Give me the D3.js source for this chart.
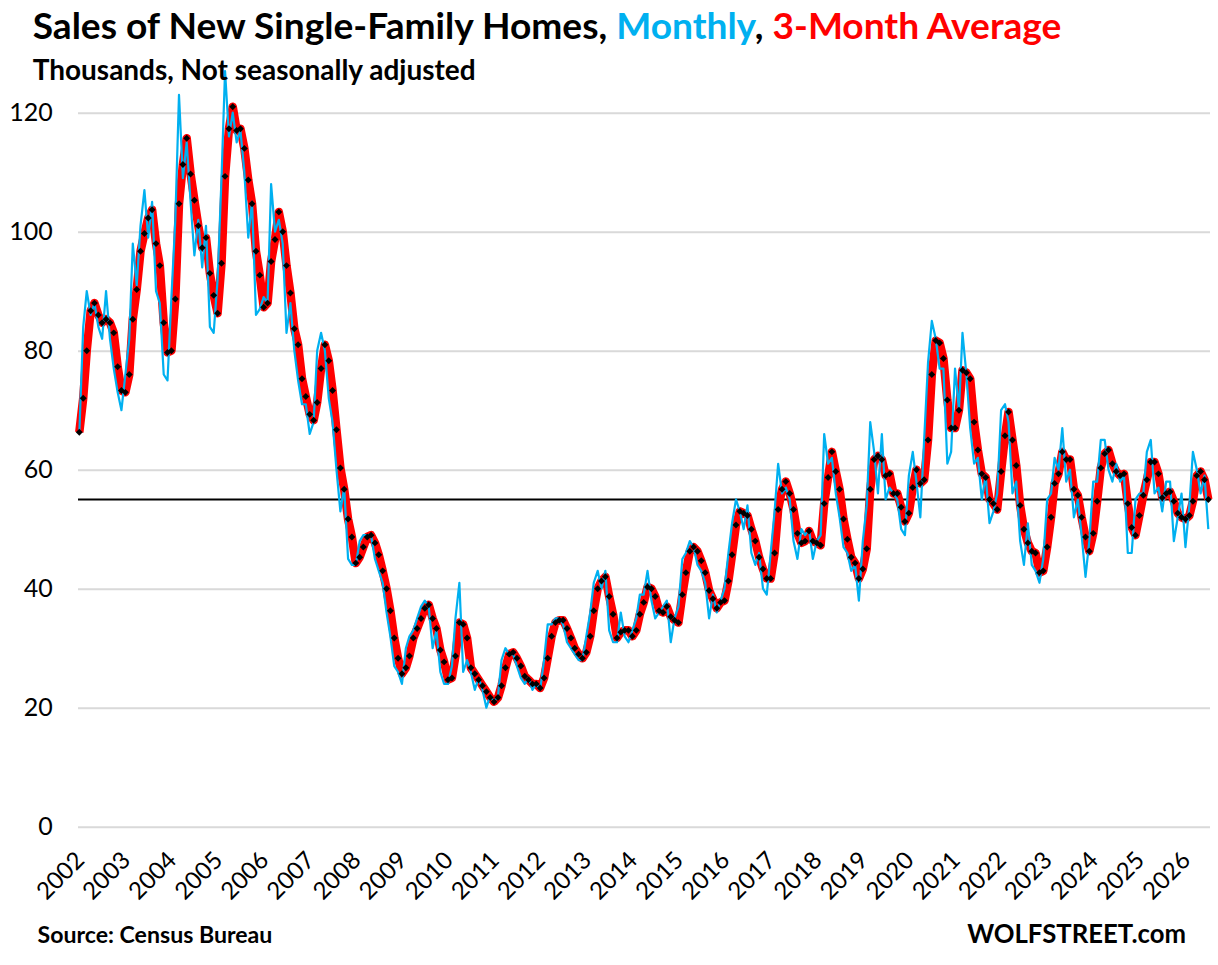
<!DOCTYPE html>
<html>
<head>
<meta charset="utf-8">
<script src="https://cdn.jsdelivr.net/npm/d3@7"></script>
<style>
  html, body { margin: 0; padding: 0; background: #fff; }
  svg { display: block; }
</style>
</head>
<body>
<div id="chart"></div>
<script>
// Sales of new single-family homes, not seasonally adjusted, thousands
// monthly from Jan 2002 to Jul 2026
const monthly = [
  66, 84, 90, 86, 88, 84, 82, 90, 82, 77, 73, 70,          // 2002
  76, 82, 98, 91, 101, 107, 99, 105, 90, 88, 76, 75,       // 2003
  89, 102, 123, 109, 115, 105, 96, 102, 94, 101, 84, 83,   // 2004
  92, 109, 127, 116, 120, 115, 117, 110, 99, 105, 86, 87,  // 2005
  89, 88, 108, 100, 102, 98, 83, 88, 80, 75, 71, 71,       // 2006
  66, 68, 80, 83, 80, 72, 68, 60, 53, 57, 45, 44,          // 2007
  44, 48, 49, 49, 49, 45, 43, 41, 36, 32, 27, 26,          // 2008
  24, 30, 32, 33, 35, 37, 38, 37, 30, 33, 26, 24,          // 2009
  24, 27, 35, 41, 26, 28, 26, 23, 25, 23, 20, 22,          // 2010
  21, 22, 28, 30, 29, 29, 27, 25, 24, 25, 23, 24,          // 2011
  23, 28, 34, 34, 35, 35, 34, 31, 30, 29, 28, 28,          // 2012
  32, 36, 41, 43, 40, 43, 33, 31, 31, 36, 32, 31,          // 2013
  33, 35, 39, 39, 43, 38, 35, 36, 37, 38, 31, 35,          // 2014
  37, 45, 46, 48, 47, 44, 43, 41, 35, 39, 36, 38,          // 2015
  40, 46, 51, 55, 53, 50, 54, 46, 44, 46, 40, 39,          // 2016
  46, 53, 61, 56, 57, 55, 48, 45, 50, 49, 50, 45,          // 2017
  48, 49, 66, 61, 62, 56, 52, 47, 46, 43, 44, 38,          // 2018
  48, 54, 68, 63, 56, 66, 55, 57, 56, 55, 50, 49,          // 2019
  59, 63, 58, 52, 65, 78, 85, 82, 77, 77, 61, 63,          // 2020
  77, 70, 83, 76, 67, 61, 62, 55, 59, 51, 53, 56,          // 2021
  70, 71, 68, 56, 58, 48, 44, 51, 44, 43, 41, 45,          // 2022
  55, 56, 62, 60, 67, 58, 60, 52, 55, 49, 42, 48,          // 2023
  58, 58, 65, 65, 60, 58, 61, 58, 59, 46, 46, 55,          // 2024
  56, 56, 63, 65, 56, 57, 53, 58, 58, 48, 52, 56,          // 2025
  47, 54, 63, 60, 56, 59, 50                               // 2026
];

// 3-month average, same months
const avg3 = [
  66.3, 72.0, 80.0, 86.7, 88.0, 86.0, 84.7, 85.3, 84.7, 83.0, 77.3, 73.3,
  73.0, 76.0, 85.3, 90.3, 96.7, 99.7, 102.3, 103.7, 98.0, 94.3, 84.7, 79.7,
  80.0, 88.7, 104.7, 111.3, 115.7, 109.7, 105.3, 101.0, 97.3, 99.0, 93.0, 89.3,
  86.3, 94.7, 109.3, 117.3, 121.0, 117.0, 117.3, 114.0, 108.7, 104.7, 96.7, 92.7,
  87.3, 88.0, 95.0, 98.7, 103.3, 100.0, 94.3, 89.7, 83.7, 81.0, 75.3, 72.3,
  69.3, 68.3, 71.3, 77.0, 81.0, 78.3, 73.3, 66.7, 60.3, 56.7, 51.7, 48.7,
  44.3, 45.3, 47.0, 48.7, 49.0, 47.7, 45.7, 43.0, 40.0, 36.3, 31.7, 28.3,
  25.7, 26.7, 28.7, 31.7, 33.3, 35.0, 36.7, 37.3, 35.0, 33.3, 29.7, 27.7,
  24.7, 25.0, 28.7, 34.3, 34.0, 31.7, 26.7, 25.7, 24.7, 23.7, 22.7, 21.7,
  21.0, 21.7, 23.7, 26.7, 29.0, 29.3, 28.3, 27.0, 25.3, 24.7, 24.0, 24.0,
  23.3, 25.0, 28.3, 32.0, 34.3, 34.7, 34.7, 33.3, 31.7, 30.0, 29.0, 28.3,
  29.3, 32.0, 36.3, 40.0, 41.3, 42.0, 38.7, 35.7, 31.7, 32.7, 33.0, 33.0,
  32.0, 33.0, 35.7, 37.7, 40.3, 40.0, 38.7, 36.3, 36.0, 37.0, 35.3, 34.7,
  34.3, 39.0, 42.7, 46.3, 47.0, 46.3, 44.7, 42.7, 39.7, 38.3, 36.7, 37.7,
  38.0, 41.3, 45.7, 50.7, 53.0, 52.7, 52.3, 50.0, 48.0, 45.3, 43.3, 41.7,
  41.7, 46.0, 53.3, 56.7, 58.0, 56.0, 53.3, 49.3, 47.7, 48.0, 49.7, 48.0,
  47.7, 47.3, 54.3, 58.7, 63.0, 59.7, 56.7, 51.7, 48.3, 45.3, 44.3, 41.7,
  43.3, 46.7, 56.7, 61.7, 62.3, 61.7, 59.0, 59.3, 56.0, 56.0, 53.7, 51.3,
  52.7, 57.0, 60.0, 57.7, 58.3, 65.0, 76.0, 81.7, 81.3, 78.7, 71.7, 67.0,
  67.0, 70.0, 76.7, 76.3, 75.3, 68.0, 63.3, 59.3, 58.7, 55.0, 54.3, 53.3,
  59.7, 65.7, 69.7, 65.0, 60.7, 54.0, 50.0, 47.7, 46.3, 46.0, 42.7, 43.0,
  47.0, 52.0, 57.7, 59.3, 63.0, 61.7, 61.7, 56.7, 55.7, 52.0, 48.7, 46.3,
  49.3, 54.7, 60.3, 62.7, 63.3, 61.0, 59.7, 59.0, 59.3, 54.3, 50.3, 49.0,
  52.3, 55.7, 58.3, 61.3, 61.3, 59.3, 55.3, 56.0, 56.3, 54.7, 52.7, 52.0,
  51.7, 52.3, 54.7, 59.0, 59.7, 58.3, 55.0
];

const yTicks = [0, 20, 40, 60, 80, 100, 120];
const xYears = d3.range(2002, 2027);
const refLevel = 55;

const months = d3.timeMonth.range(new Date(2002, 0, 1), new Date(2026, 7, 1));

const W = 1218, H = 965;
const plotL = 78, plotR = 1210;
const font = "Lato, 'Open Sans', sans-serif";

const svg = d3.select("#chart").append("svg")
  .attr("width", W).attr("height", H)
  .attr("viewBox", `0 0 ${W} ${H}`);

const x = d3.scaleTime()
  .domain([months[0], months[months.length - 1]])
  .range([79.3, 1208.3]);

const y = d3.scaleLinear().domain([0, 120]).range([826.7, 112.7]);

// fit a text element to a measured width by scaling its font size
const fit = (sel, w) => {
  const len = sel.node().getComputedTextLength();
  const fs = parseFloat(sel.attr("font-size"));
  sel.attr("font-size", fs * w / len);
};

// gridlines
const grid = svg.append("g")
  .attr("transform", `translate(${plotL},0)`)
  .call(d3.axisLeft(y).tickValues(yTicks).tickSize(-(plotR - plotL)).tickFormat(""));
grid.select(".domain").remove();
grid.selectAll("line").attr("stroke", "#d9d9d9").attr("stroke-width", 2);

// y labels
const yAxis = svg.append("g")
  .attr("transform", `translate(${plotL},0)`)
  .call(d3.axisLeft(y).tickValues(yTicks).tickSize(0).tickPadding(25.3));
yAxis.select(".domain").remove();
yAxis.selectAll("text")
  .attr("font-family", font).attr("font-size", 25).attr("fill", "#000");

// x labels, rotated
const xAxis = svg.append("g")
  .attr("transform", `translate(0,${y(0)})`)
  .call(d3.axisBottom(x)
    .tickValues(xYears.map(yr => new Date(yr, 0, 1)))
    .tickFormat(d3.timeFormat("%Y"))
    .tickSize(0));
xAxis.select(".domain").remove();
xAxis.selectAll("text")
  .attr("font-family", font).attr("font-size", 24).attr("fill", "#000")
  .attr("text-anchor", "end")
  .attr("y", 0).attr("dy", null)
  .attr("transform", "translate(6,35) rotate(-45)");

// reference level
svg.append("line")
  .attr("x1", plotL).attr("x2", plotR)
  .attr("y1", y(refLevel)).attr("y2", y(refLevel))
  .attr("stroke", "#000").attr("stroke-width", 2);

const line = d3.line()
  .x((d, i) => x(months[i]))
  .y(d => y(d));

// 3-month average: thick red line
svg.append("path")
  .datum(avg3)
  .attr("d", line)
  .attr("fill", "none")
  .attr("stroke", "#ff0000")
  .attr("stroke-width", 8.5)
  .attr("stroke-linejoin", "round");

// monthly: thin blue
svg.append("path")
  .datum(monthly)
  .attr("d", line)
  .attr("fill", "none")
  .attr("stroke", "#00b0f0")
  .attr("stroke-width", 2.2)
  .attr("stroke-linejoin", "round");

// black diamonds on the average
const diamond = d3.symbol().type(d3.symbolSquare).size(24);
svg.append("g").selectAll("path")
  .data(avg3)
  .join("path")
  .attr("d", diamond)
  .attr("transform", (d, i) => `translate(${x(months[i])},${y(d)}) rotate(45)`)
  .attr("fill", "#000");

// title
const title = svg.append("text")
  .attr("x", 32.7).attr("y", 38.6)
  .attr("font-family", font).attr("font-weight", 700).attr("font-size", 34)
  .attr("fill", "#000");
title.append("tspan").text("Sales of New Single-Family Homes, ");
title.append("tspan").attr("fill", "#00b0f0").text("Monthly");
title.append("tspan").text(", ");
title.append("tspan").attr("fill", "#ff0000").text("3-Month Average");
fit(title, 1029);

const sub = svg.append("text")
  .attr("x", 32.7).attr("y", 80)
  .attr("font-family", font).attr("font-weight", 700).attr("font-size", 24)
  .attr("fill", "#000")
  .text("Thousands, Not seasonally adjusted");
fit(sub, 443);

const src = svg.append("text")
  .attr("x", 37.5).attr("y", 942.7)
  .attr("font-family", font).attr("font-weight", 700).attr("font-size", 20)
  .attr("fill", "#000")
  .text("Source: Census Bureau");
fit(src, 235);

const brand = svg.append("text")
  .attr("x", 1186).attr("y", 942.7)
  .attr("text-anchor", "end")
  .attr("font-family", font).attr("font-weight", 700).attr("font-size", 26)
  .attr("fill", "#000")
  .text("WOLFSTREET.com");
fit(brand, 219);
</script>
</body>
</html>
